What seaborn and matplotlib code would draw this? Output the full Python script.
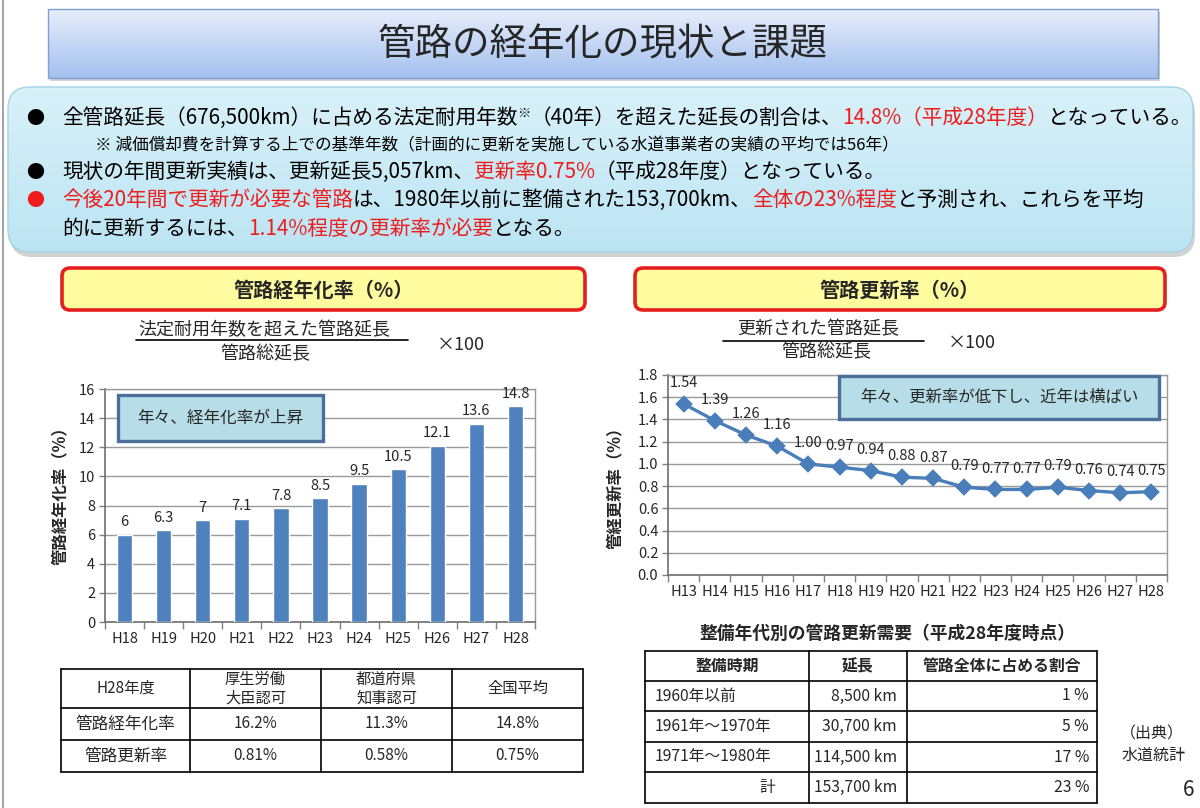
import numpy as np
import matplotlib
matplotlib.use("Agg")
import matplotlib.pyplot as plt
import seaborn as sns
from matplotlib.patches import FancyBboxPatch, Rectangle
from matplotlib.colors import LinearSegmentedColormap
from matplotlib.ticker import FixedLocator, MultipleLocator, FormatStrFormatter

# ---------------- data ----------------
aging_years = ["H18", "H19", "H20", "H21", "H22", "H23", "H24", "H25", "H26", "H27", "H28"]
aging_rate = [6, 6.3, 7, 7.1, 7.8, 8.5, 9.5, 10.5, 12.1, 13.6, 14.8]

renewal_years = ["H13", "H14", "H15", "H16", "H17", "H18", "H19", "H20",
                 "H21", "H22", "H23", "H24", "H25", "H26", "H27", "H28"]
renewal_rate = [1.54, 1.39, 1.26, 1.16, 1.00, 0.97, 0.94, 0.88,
                0.87, 0.79, 0.77, 0.77, 0.79, 0.76, 0.74, 0.75]

left_table_header = ["H28年度", "厚生労働\n大臣認可", "都道府県\n知事認可", "全国平均"]
left_table_rows = [["管路経年化率", "16.2%", "11.3%", "14.8%"],
                   ["管路更新率", "0.81%", "0.58%", "0.75%"]]

right_table_title = "整備年代別の管路更新需要（平成28年度時点）"
right_table_header = ["整備時期", "延長", "管路全体に占める割合"]
right_periods = ["1960年以前", "1961年～1970年", "1971年～1980年", "計"]
right_lengths = ["8,500 km", "30,700 km", "114,500 km", "153,700 km"]
right_shares = ["1 %", "5 %", "17 %", "23 %"]

title_text = "管路の経年化の現状と課題"
RED = "#ee1c1c"
K = "#000000"
bullet_lines = [
    [("全管路延長（676,500km）に占める法定耐用年数", K), ("※", K, 9.5, -7),
     ("（40年）を超えた延長の割合は、", K), ("14.8%（平成28年度）", RED), ("となっている。", K)],
    [("現状の年間更新実績は、更新延長5,057km、", K), ("更新率0.75%", RED),
     ("（平成28年度）となっている。", K)],
    [("今後20年間で更新が必要な管路", RED), ("は、1980年以前に整備された153,700km、", K),
     ("全体の23%程度", RED), ("と予測され、これらを平均", K)],
    [("的に更新するには、", K), ("1.14%程度の更新率が必要", RED), ("となる。", K)],
]
note_text = "※ 減価償却費を計算する上での基準年数（計画的に更新を実施している水道事業者の実績の平均では56年）"

# ---------------- style ----------------
sns.set_style("white")
plt.rcParams["font.family"] = ["Noto Sans CJK JP", "DejaVu Sans"]

W, H = 1200, 808
fig = plt.figure(figsize=(12, 8.08), dpi=100)
renderer = fig.canvas.get_renderer()

bg = fig.add_axes([0, 0, 1, 1], zorder=0)
bg.set_xlim(0, W)
bg.set_ylim(H, 0)
bg.axis("off")

fg = fig.add_axes([0, 0, 1, 1], zorder=5)
fg.set_xlim(0, W)
fg.set_ylim(H, 0)
fg.axis("off")
fg.patch.set_alpha(0)


def axes_px(x0, y0, x1, y1):
    return fig.add_axes([x0 / W, 1 - y1 / H, (x1 - x0) / W, (y1 - y0) / H], zorder=2)


def grad_box(ax, x0, y0, x1, y1, c_top, c_bot, edge, lw, radius, z, shadow=(3, 4)):
    style = f"round,pad=0,rounding_size={radius}" if radius else "square,pad=0"
    if shadow:
        sh = FancyBboxPatch((x0 + shadow[0], y0 + shadow[1]), x1 - x0, y1 - y0,
                            boxstyle=style, fc="#7f7f7f", ec="none", alpha=0.35, zorder=z - 0.5)
        ax.add_patch(sh)
    patch = FancyBboxPatch((x0, y0), x1 - x0, y1 - y0, boxstyle=style,
                           fc="none", ec=edge, lw=lw, zorder=z + 0.1)
    ax.add_patch(patch)
    grad = np.linspace(0, 1, 256).reshape(-1, 1)
    cmap = LinearSegmentedColormap.from_list("g", [c_top, c_bot])
    im = ax.imshow(grad, extent=[x0, x1, y1, y0], cmap=cmap, aspect="auto",
                   origin="upper", zorder=z, interpolation="bilinear")
    im.set_clip_path(patch)
    ax.set_xlim(0, W)
    ax.set_ylim(H, 0)


def rich(ax, x, y, parts, size):
    for p in parts:
        s, color = p[0], p[1]
        sz, dy = (p[2], p[3]) if len(p) > 2 else (size, 0)
        t = ax.text(x, y + dy, s, color=color, fontsize=sz, ha="left", va="baseline", zorder=6)
        x += t.get_window_extent(renderer).width


# slide left border
bg.plot([3, 3], [0, H], color="#a6a6a6", lw=1.5, zorder=1)

# ---------------- title ----------------
grad_box(bg, 48, 9, 1158, 78, "#e8eefb", "#a3c0ef", "#7f9fd3", 1.0, 0, 2, shadow=(2, 3))
bg.text(603, 45, title_text, fontsize=27, ha="center", va="center", zorder=6)

# ---------------- info box ----------------
grad_box(bg, 8, 87, 1193, 252, "#d9f1f9", "#bce4f3", "#a3d3e6", 1.0, 22, 2, shadow=(2, 5))
line_y = [124, 178, 206, 235]
size_main = 14.9
bg.text(35, line_y[0], "●", fontsize=13, ha="center", va="baseline", color=K, zorder=6)
bg.text(35, line_y[1], "●", fontsize=13, ha="center", va="baseline", color=K, zorder=6)
bg.text(35, line_y[2], "●", fontsize=13, ha="center", va="baseline", color=RED, zorder=6)
rich(bg, 62, line_y[0], bullet_lines[0], size_main)
bg.text(95, 150, note_text, fontsize=12, ha="left", va="baseline", color=K, zorder=6)
rich(bg, 62, line_y[1], bullet_lines[1], size_main)
rich(bg, 62, line_y[2], bullet_lines[2], size_main)
rich(bg, 62, line_y[3], bullet_lines[3], size_main)

# ---------------- section headers ----------------
for (x0, x1, txt) in [(62, 585, "管路経年化率（%）"), (635, 1165, "管路更新率（%）")]:
    bg.add_patch(FancyBboxPatch((x0, 268), x1 - x0, 42, boxstyle="round,pad=0,rounding_size=8",
                                fc="#fefc9e", ec="#e61e1e", lw=2.6, zorder=2))
    bg.text((x0 + x1) / 2, 290, txt, fontsize=14.5, fontweight="bold", ha="center", va="center", zorder=6)

# fractions
bg.text(264, 330, "法定耐用年数を超えた管路延長", fontsize=13, ha="center", va="center", zorder=6)
bg.plot([136, 408], [340, 340], color=K, lw=1.2, zorder=6)
bg.text(265, 354, "管路総延長", fontsize=13, ha="center", va="center", zorder=6)
bg.text(437, 345, "×100", fontsize=13, ha="left", va="center", zorder=6)

bg.text(818, 329, "更新された管路延長", fontsize=13, ha="center", va="center", zorder=6)
bg.plot([723, 924], [341, 341], color=K, lw=1.2, zorder=6)
bg.text(826, 352, "管路総延長", fontsize=13, ha="center", va="center", zorder=6)
bg.text(948, 343, "×100", fontsize=13, ha="left", va="center", zorder=6)

# ---------------- charts ----------------
GRID = "#9a9a9a"
SPINE = "#808080"
BLUE = "#4f81bd"

ax1 = axes_px(105, 389, 535, 622)
sns.barplot(x=aging_years, y=aging_rate, color=BLUE, saturation=1, width=0.39, ax=ax1, zorder=3)
ax1.set_ylim(0, 16)
ax1.yaxis.set_major_locator(MultipleLocator(2))
ax1.yaxis.grid(True, color=GRID, lw=1.0)
ax1.set_axisbelow(True)
ax1.bar_label(ax1.containers[0], labels=[f"{v:g}" for v in aging_rate], padding=4, fontsize=10.5)

ax2 = axes_px(668, 375, 1167, 575)
sns.pointplot(x=renewal_years, y=renewal_rate, color="#4a7ebb", markers="D", linestyles="-",
              errorbar=None, ax=ax2, markersize=7.5, linewidth=2.4)
ax2.set_ylim(0, 1.8)
ax2.yaxis.set_major_locator(MultipleLocator(0.2))
ax2.yaxis.set_major_formatter(FormatStrFormatter("%.1f"))
ax2.yaxis.grid(True, color=GRID, lw=1.0)
ax2.set_axisbelow(True)
for i, v in enumerate(renewal_rate):
    ax2.annotate(f"{v:.2f}", (i, v), xytext=(0, 15), textcoords="offset points",
                 ha="center", va="center", fontsize=10.5)

for ax, n in [(ax1, len(aging_years)), (ax2, len(renewal_years))]:
    ax.set_xlim(-0.5, n - 0.5)
    ax.set_xlabel("")
    ax.set_ylabel("")
    ax.xaxis.set_minor_locator(FixedLocator(np.arange(-0.5, n, 1.0)))
    ax.tick_params(axis="x", which="major", length=0, pad=7, labelsize=10.5)
    ax.tick_params(axis="x", which="minor", length=5, width=1, color=SPINE, direction="out", bottom=True)
    ax.tick_params(axis="y", which="major", length=4, width=1, color=SPINE, direction="out",
                   left=True, labelsize=10.5, pad=3)
    ax.xaxis.grid(False)
    for s in ["top", "right"]:
        ax.spines[s].set_color(GRID)
        ax.spines[s].set_linewidth(1.0)
    for s in ["left", "bottom"]:
        ax.spines[s].set_color("#6e6e6e")
        ax.spines[s].set_linewidth(1.2)
        ax.spines[s].set_visible(True)

bg.text(60, 492, "管路経年化率（%）", fontsize=11.8, fontweight="bold", rotation=90,
        ha="center", va="center", zorder=6)
bg.text(615, 484, "管経更新率（%）", fontsize=11.8, fontweight="bold", rotation=90,
        ha="center", va="center", zorder=6)

# chart callouts
fg.add_patch(Rectangle((118, 395), 205, 46, fc="#b7dde8", ec="#4b6f99", lw=2.4, zorder=6))
fg.text(220, 418, "年々、経年化率が上昇", fontsize=12, ha="center", va="center", zorder=7)
fg.add_patch(Rectangle((839, 376), 320, 43, fc="#b7dde8", ec="#4b6f99", lw=2.4, zorder=6))
fg.text(999, 397, "年々、更新率が低下し、近年は横ばい", fontsize=11.8, ha="center", va="center", zorder=7)

# ---------------- tables ----------------
def grid_lines(xs, ys):
    for x in xs:
        bg.plot([x, x], [ys[0], ys[-1]], color=K, lw=1.2, zorder=6)
    for y in ys:
        bg.plot([xs[0], xs[-1]], [y, y], color=K, lw=1.2, zorder=6)

lx = [61, 190, 321, 452, 583]
ly = [669, 708, 740, 772]
grid_lines(lx, ly)
for j, h in enumerate(left_table_header):
    bg.text((lx[j] + lx[j + 1]) / 2, (ly[0] + ly[1]) / 2, h, fontsize=11, ha="center", va="center",
            linespacing=1.1, zorder=7)
for i, row in enumerate(left_table_rows):
    yc = (ly[i + 1] + ly[i + 2]) / 2
    for j, cell in enumerate(row):
        bg.text((lx[j] + lx[j + 1]) / 2, yc, cell, fontsize=12 if j == 0 else 11,
                ha="center", va="center", zorder=7)

bg.text(887, 634, right_table_title, fontsize=12.8, fontweight="bold", ha="center", va="center", zorder=7)
rx = [645, 809, 907, 1097]
ry = [651, 681, 711, 742, 772, 803]
grid_lines(rx, ry)
for j, h in enumerate(right_table_header):
    bg.text((rx[j] + rx[j + 1]) / 2, (ry[0] + ry[1]) / 2, h, fontsize=11.4, fontweight="bold",
            ha="center", va="center", zorder=7)
for i in range(len(right_periods)):
    yc = (ry[i + 1] + ry[i + 2]) / 2
    if right_periods[i] == "計":
        bg.text(775, yc, right_periods[i], fontsize=11.3, ha="right", va="center", zorder=7)
    else:
        bg.text(655, yc, right_periods[i], fontsize=11.3, ha="left", va="center", zorder=7)
    bg.text(897, yc, right_lengths[i], fontsize=11.3, ha="right", va="center", zorder=7)
    bg.text(1089, yc, right_shares[i], fontsize=11.3, ha="right", va="center", zorder=7)

bg.text(1120, 734, "（出典）", fontsize=11.5, ha="left", va="center", zorder=7)
bg.text(1122, 755, "水道統計", fontsize=11.5, ha="left", va="center", zorder=7)
bg.text(1194, 790, "6", fontsize=15, ha="right", va="center", zorder=7)

fig.savefig("out.png", dpi=100)
